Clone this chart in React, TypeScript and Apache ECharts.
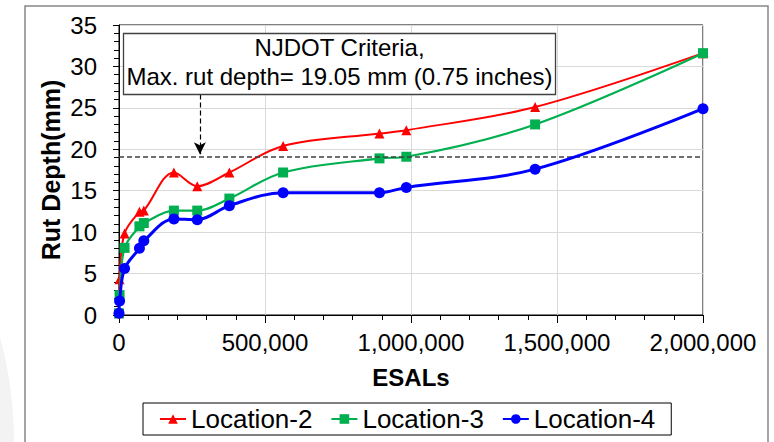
import React, { useEffect, useRef } from "react";
import * as echarts from "echarts";

// ---- data ----
const esals = [0, 2000, 19000, 70000, 85000, 188000, 268000, 378000, 562000, 892000, 984000, 1425000, 2000000];
const location2 = [0.2, 4.3, 9.85, 12.45, 12.6, 17.2, 15.55, 17.2, 20.4, 21.9, 22.3, 25.1, 31.6];
const location3 = [0.2, 2.4, 8.1, 10.7, 11.1, 12.6, 12.6, 14.05, 17.2, 18.9, 19.1, 23.0, 31.6];
const location4 = [0.2, 1.7, 5.6, 8.05, 8.95, 11.6, 11.5, 13.2, 14.75, 14.75, 15.4, 17.6, 24.9];
const seriesNames = ["Location-2", "Location-3", "Location-4"];
const criteriaDepth = 19.05;
const arrowEsal = 277000;
const arrowTop = 26.6;
const annotationLines = ["NJDOT Criteria,", "Max. rut depth= 19.05 mm (0.75 inches)"];

const FONT = "'Liberation Sans', Arial, sans-serif";

const zip = (xs: number[], ys: number[]) => xs.map((x, i) => [x, ys[i]]);

export default function App() {
  const ref = useRef<HTMLDivElement>(null);
  useEffect(() => {
    document.body.style.margin = "0";
    const chart = echarts.init(ref.current!, null, { renderer: "svg" });
    const option: any = {
      animation: false,
      backgroundColor: "#ffffff",
      textStyle: { fontFamily: FONT },
      grid: {
        left: 119,
        right: 71,
        top: 25,
        bottom: 127,
        show: true,
        borderColor: "#000",
        borderWidth: 1,
        backgroundColor: "transparent",
      },
      legend: {
        data: seriesNames,
        left: 143,
        top: 403,
        itemWidth: 26,
        itemHeight: 12,
        itemGap: 18,
        borderColor: "#000",
        borderWidth: 1,
        padding: [3, 16, 3, 16],
        textStyle: { fontSize: 26, color: "#000", fontFamily: FONT },
      },
      xAxis: {
        type: "value",
        min: 0,
        max: 2000000,
        interval: 500000,
        name: "ESALs",
        nameLocation: "middle",
        nameGap: 50,
        nameMoveOverlap: false,
        nameTextStyle: { fontSize: 24, fontWeight: "bold", color: "#000", fontFamily: FONT },
        axisLine: { show: true, lineStyle: { color: "#000", width: 1 } },
        axisTick: { show: true, length: 8, lineStyle: { color: "#000" } },
        minorTick: { show: true, splitNumber: 5, length: 5, lineStyle: { color: "#000" } },
        axisLabel: {
          fontSize: 24,
          color: "#000",
          margin: 15,
          fontFamily: FONT,
          formatter: (v: number) => v.toLocaleString("en-US"),
        },
        splitLine: { show: true, lineStyle: { color: "#d9d9d9", width: 1 } },
      },
      yAxis: {
        type: "value",
        min: 0,
        max: 35,
        interval: 5,
        name: "Rut Depth(mm)",
        nameLocation: "middle",
        nameGap: 56,
        nameMoveOverlap: false,
        nameTextStyle: { fontSize: 25, fontWeight: "bold", color: "#000", fontFamily: FONT },
        axisLine: { show: true, lineStyle: { color: "#000", width: 1 } },
        axisTick: { show: true, length: 6, lineStyle: { color: "#000" } },
        minorTick: { show: true, splitNumber: 5, length: 5, lineStyle: { color: "#000" } },
        axisLabel: { fontSize: 24, color: "#000", margin: 22, fontFamily: FONT },
        splitLine: { show: true, lineStyle: { color: "#d9d9d9", width: 1 } },
      },
      graphic: [
        {
          type: "circle",
          silent: true,
          z: -10,
          shape: { cx: -386, cy: 442, r: 400 },
          style: { fill: "#f3f3f3" },
        },
        {
          type: "rect",
          silent: true,
          z: -5,
          shape: { x: 25, y: 6, width: 743, height: 460 },
          style: { fill: "#ffffff", stroke: "#888888", lineWidth: 1.5 },
        },
        {
          type: "rect",
          z: 50,
          shape: { x: 123.5, y: 33.5, width: 432, height: 61 },
          style: { fill: "#ffffff", stroke: "#404040", lineWidth: 1.3 },
        },
        {
          type: "text",
          z: 51,
          x: 339.5,
          y: 47,
          style: {
            text: annotationLines[0],
            fontSize: 24,
            fontFamily: FONT,
            fill: "#000",
            align: "center",
            verticalAlign: "middle",
          },
        },
        {
          type: "text",
          z: 51,
          x: 339.5,
          y: 76,
          style: {
            text: annotationLines[1],
            fontSize: 24,
            fontFamily: FONT,
            fill: "#000",
            align: "center",
            verticalAlign: "middle",
          },
        },
      ],
      series: [
        {
          name: seriesNames[0],
          type: "line",
          data: zip(esals, location2),
          smooth: 0.35,
          symbol: "triangle",
          symbolSize: 10,
          itemStyle: { color: "#ff0000" },
          lineStyle: { color: "#ff0000", width: 2 },
          z: 3,
          markLine: {
            silent: true,
            animation: false,
            label: { show: false },
            data: [
              [
                { coord: [0, criteriaDepth], symbol: "none" },
                { coord: [2000000, criteriaDepth], symbol: "none" },
              ],
              [
                {
                  coord: [arrowEsal, arrowTop],
                  symbol: "none",
                  lineStyle: { color: "#000", type: [5, 3], width: 1.2 },
                },
                {
                  coord: [arrowEsal, criteriaDepth + 0.35],
                  symbol: "arrow",
                  symbolSize: [9, 12],
                },
              ],
            ],
            lineStyle: { color: "#404040", type: [5, 3], width: 1.5 },
          },
        },
        {
          name: seriesNames[1],
          type: "line",
          data: zip(esals, location3),
          smooth: 0.35,
          symbol: "rect",
          symbolSize: 10,
          itemStyle: { color: "#00b050" },
          lineStyle: { color: "#00b050", width: 2.2 },
          z: 4,
        },
        {
          name: seriesNames[2],
          type: "line",
          data: zip(esals, location4),
          smooth: 0.35,
          symbol: "circle",
          symbolSize: 11,
          itemStyle: { color: "#0000ff" },
          lineStyle: { color: "#0000ff", width: 3 },
          z: 5,
        },
      ],
    };
    chart.setOption(option);
    return () => chart.dispose();
  }, []);
  return <div ref={ref} style={{ width: 774, height: 442 }} />;
}
